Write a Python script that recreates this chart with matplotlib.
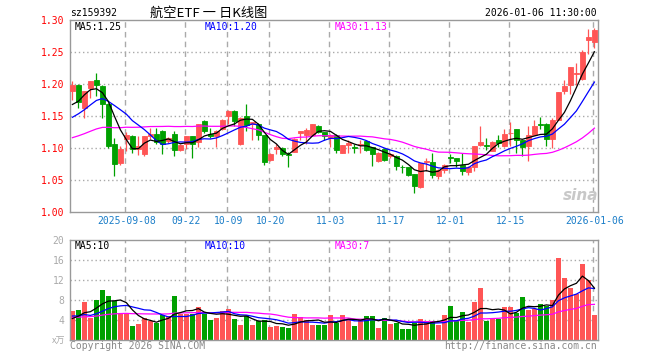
import numpy as np
import pandas as pd
import matplotlib
matplotlib.use('Agg')
import matplotlib.pyplot as plt

# trading days shown (Aug 26 2025 .. Jan 6 2026, CN holidays removed)
holidays = ['2025-10-01', '2025-10-02', '2025-10-03', '2025-10-06', '2025-10-07',
            '2025-10-08', '2026-01-01', '2026-01-02']
days = pd.bdate_range('2025-08-26', '2026-01-06')
days = days[~days.strftime('%Y-%m-%d').isin(holidays)]

open_ = [1.189, 1.199, 1.162, 1.193, 1.207, 1.197, 1.168, 1.106, 1.077, 1.114,
         1.119, 1.099, 1.091, 1.118, 1.122, 1.127, 1.111, 1.122, 1.097, 1.106,
         1.118, 1.109, 1.142, 1.122, 1.118, 1.129, 1.150, 1.158, 1.107, 1.150,
         1.137, 1.138, 1.120, 1.082, 1.098, 1.100, 1.091, 1.093, 1.123, 1.121,
         1.121, 1.134, 1.125, 1.116, 1.121, 1.092, 1.105, 1.101, 1.105, 1.111,
         1.102, 1.079, 1.099, 1.087, 1.088, 1.071, 1.070, 1.059, 1.039, 1.078,
         1.078, 1.057, 1.065, 1.086, 1.084, 1.074, 1.062, 1.071, 1.104, 1.104,
         1.096, 1.113, 1.103, 1.123, 1.129, 1.112, 1.103, 1.121, 1.137, 1.138,
         1.114, 1.144, 1.189, 1.199, 1.216, 1.208, 1.268, 1.266]
high = [1.205, 1.200, 1.189, 1.205, 1.217, 1.198, 1.170, 1.115, 1.103, 1.125,
        1.120, 1.118, 1.118, 1.132, 1.131, 1.128, 1.117, 1.127, 1.107, 1.119,
        1.119, 1.138, 1.143, 1.132, 1.128, 1.145, 1.159, 1.159, 1.148, 1.168,
        1.141, 1.139, 1.121, 1.092, 1.106, 1.101, 1.093, 1.115, 1.126, 1.132,
        1.137, 1.136, 1.125, 1.122, 1.122, 1.105, 1.113, 1.106, 1.113, 1.111,
        1.102, 1.093, 1.100, 1.092, 1.089, 1.074, 1.071, 1.060, 1.076, 1.084,
        1.092, 1.067, 1.075, 1.090, 1.085, 1.092, 1.072, 1.103, 1.134, 1.115,
        1.111, 1.121, 1.129, 1.140, 1.129, 1.113, 1.135, 1.144, 1.148, 1.139,
        1.147, 1.188, 1.207, 1.227, 1.233, 1.253, 1.286, 1.287]
low = [1.175, 1.163, 1.147, 1.178, 1.181, 1.147, 1.100, 1.056, 1.073, 1.096,
       1.092, 1.089, 1.088, 1.114, 1.106, 1.090, 1.108, 1.088, 1.096, 1.098,
       1.084, 1.101, 1.123, 1.116, 1.101, 1.128, 1.137, 1.134, 1.105, 1.126,
       1.112, 1.113, 1.074, 1.080, 1.090, 1.087, 1.070, 1.093, 1.113, 1.106,
       1.120, 1.124, 1.113, 1.102, 1.092, 1.092, 1.092, 1.092, 1.092, 1.095,
       1.072, 1.078, 1.079, 1.085, 1.065, 1.061, 1.057, 1.029, 1.038, 1.064,
       1.053, 1.051, 1.061, 1.077, 1.071, 1.058, 1.058, 1.064, 1.103, 1.097,
       1.095, 1.102, 1.101, 1.103, 1.092, 1.087, 1.079, 1.120, 1.129, 1.103,
       1.100, 1.143, 1.185, 1.185, 1.199, 1.206, 1.247, 1.256]
close = [1.199, 1.172, 1.189, 1.205, 1.198, 1.168, 1.103, 1.075, 1.098, 1.121,
         1.098, 1.103, 1.118, 1.122, 1.110, 1.106, 1.115, 1.097, 1.105, 1.118,
         1.106, 1.138, 1.127, 1.118, 1.127, 1.143, 1.158, 1.142, 1.147, 1.136,
         1.141, 1.120, 1.078, 1.091, 1.102, 1.090, 1.089, 1.114, 1.126, 1.128,
         1.137, 1.125, 1.119, 1.121, 1.097, 1.105, 1.108, 1.100, 1.107, 1.097,
         1.091, 1.092, 1.081, 1.090, 1.072, 1.070, 1.058, 1.040, 1.076, 1.079,
         1.058, 1.066, 1.074, 1.085, 1.079, 1.064, 1.071, 1.103, 1.110, 1.103,
         1.110, 1.108, 1.122, 1.124, 1.112, 1.102, 1.121, 1.135, 1.136, 1.114,
         1.144, 1.187, 1.197, 1.227, 1.217, 1.250, 1.273, 1.285]
# volume, 10k shares
volume = [5.8, 6.0, 7.6, 4.5, 8.0, 10.0, 8.8, 7.9, 5.3, 5.3,
          2.8, 3.2, 4.5, 3.8, 3.5, 5.0, 4.8, 8.8, 5.3, 5.3,
          5.3, 6.7, 5.3, 4.0, 4.5, 5.8, 6.2, 4.2, 3.0, 4.8,
          3.0, 3.9, 4.1, 2.7, 2.8, 2.7, 2.5, 5.2, 4.7, 4.1,
          3.0, 3.0, 3.0, 5.0, 3.5, 5.0, 4.3, 2.8, 4.3, 4.8,
          4.8, 2.5, 4.5, 3.3, 3.5, 2.2, 2.2, 3.5, 4.2, 3.9,
          3.9, 3.0, 5.0, 6.8, 3.8, 5.7, 3.7, 7.7, 10.5, 3.9,
          4.5, 4.3, 6.7, 6.7, 5.5, 8.7, 6.1, 6.3, 7.2, 6.8,
          8.0, 16.5, 12.5, 10.5, 9.2, 15.2, 12.0, 5.0]

# earlier sessions (off screen) that feed the moving averages
pre_close = [1.085, 1.088, 1.092, 1.090, 1.095, 1.098, 1.094, 1.097, 1.100, 1.103,
             1.099, 1.102, 1.105, 1.108, 1.104, 1.107, 1.110, 1.106, 1.109, 1.112,
             1.118, 1.125, 1.130, 1.128, 1.139, 1.147, 1.1385, 1.165, 1.1905]
pre_volume = [4.0, 5.2, 3.6, 4.8, 3.9, 4.5, 5.0, 3.4, 4.2, 4.6,
              3.8, 5.1, 4.4, 3.7, 4.9, 4.3, 4.0, 4.7, 3.9, 5.0,
              5.8, 4.9, 6.2, 4.7, 4.9, 3.6, 4.2, 3.5, 4.4]

tick_dates = ['2025-09-08', '2025-09-22', '2025-10-09', '2025-10-20', '2025-11-03',
              '2025-11-17', '2025-12-01', '2025-12-15', '2026-01-06']
tick_labels = ['2025-09-08', '09-22', '10-09', '10-20', '11-03',
               '11-17', '12-01', '12-15', '2026-01-06']
price_ticks = [1.00, 1.05, 1.10, 1.15, 1.20, 1.25, 1.30]
vol_ticks = [4, 8, 12, 16, 20]

RED = '#ff5555'
GREEN = '#00a000'
GRID = '#aaaaaa'
FRAME = '#999999'
MA_COLS = {5: 'black', 10: '#0000ff', 30: '#ff00ff'}
MONO = 'DejaVu Sans Mono'
CJK = ['Noto Sans CJK SC', 'DejaVu Sans']

open_, high, low, close, volume = map(np.array, (open_, high, low, close, volume))
n = len(close)
x = np.arange(n)
npre = len(pre_close)
c_all = pd.Series(list(pre_close) + list(close))
v_all = pd.Series(list(pre_volume) + list(volume))
ma = {k: c_all.rolling(k).mean().values[npre:] for k in (5, 10, 30)}
vma = {k: v_all.rolling(k).mean().values[npre:] for k in (5, 10, 30)}

day_str = list(days.strftime('%Y-%m-%d'))
tick_pos = [day_str.index(d) for d in tick_dates]

W, H = 660, 360
fig = plt.figure(figsize=(W / 100, H / 100), dpi=100)


def box(l, t, r, b):
    return [l / W, 1 - b / H, (r - l) / W, (b - t) / H]


def ftext(px, py, s, **kw):
    fig.text(px / W, 1 - py / H, s, **kw)


ax = fig.add_axes(box(70, 20, 598, 212))
axv = fig.add_axes(box(70, 240, 598, 340))

up = close >= open_
cols = np.where(up, RED, GREEN)

for a in (ax, axv):
    a.set_xlim(-0.4, 87.6)
    for p in tick_pos:
        a.axvline(p - 0.25, color=GRID, lw=1.0, ls=(0, (4, 3)), zorder=0)
    for s in a.spines.values():
        s.set_color(FRAME)
        s.set_linewidth(1.0)
    a.tick_params(length=0)

# price panel
ax.vlines(x, low, high, colors=cols, lw=0.9, zorder=2)
ax.bar(x, np.abs(close - open_), bottom=np.minimum(open_, close), width=0.8,
       color=cols, edgecolor=cols, linewidth=0.6, zorder=3)
for k in (30, 10, 5):
    ax.plot(x, ma[k], color=MA_COLS[k], lw=0.9, zorder=4)
ax.set_ylim(1.00, 1.30)
ax.set_yticks(price_ticks)
ax.set_yticklabels(['%.2f' % v for v in price_ticks], color='red',
                   family=MONO, fontsize=7)
for v in price_ticks[1:-1]:
    ax.axhline(v, color=GRID, lw=1.0, ls=(0, (1, 2)), zorder=0)
ax.set_xticks(tick_pos)
ax.set_xticklabels(tick_labels, color='#1a7dc8', family=MONO, fontsize=7)
ax.tick_params(axis='x', pad=3)
ax.tick_params(axis='y', pad=4)

# volume panel
axv.bar(x, volume, width=0.8, color=cols, linewidth=0, zorder=2)
for k in (30, 10, 5):
    axv.plot(x, vma[k], color=MA_COLS[k], lw=0.9, zorder=4)
axv.set_ylim(0, 20)
axv.set_yticks(vol_ticks)
axv.set_yticklabels([str(v) for v in vol_ticks], color=GRID, family=MONO, fontsize=7)
for v in vol_ticks[:-1]:
    axv.axhline(v, color=GRID, lw=1.0, ls=(0, (1, 2)), zorder=0)
axv.set_xticks([])
axv.tick_params(axis='y', pad=4)

# header texts
ftext(70, 13, 'sz159392', family=MONO, fontsize=7, va='center')
ftext(209, 13, '航空ETF 一 日K线图', family=CJK, fontsize=9.5, va='center', ha='center')
ftext(597, 13, '2026-01-06 11:30:00', family=MONO, fontsize=7, va='center', ha='right')

ftext(75, 27, 'MA5:%.2f' % ma[5][-1], family=MONO, fontsize=7, va='center', color='black')
ftext(205, 27, 'MA10:%.2f' % ma[10][-1], family=MONO, fontsize=7, va='center', color='#0000ff')
ftext(335, 27, 'MA30:%.2f' % ma[30][-1], family=MONO, fontsize=7, va='center', color='#ff00ff')

ftext(75, 246, 'MA5:%d' % vma[5][-1], family=MONO, fontsize=7, va='center', color='black')
ftext(205, 246, 'MA10:%d' % vma[10][-1], family=MONO, fontsize=7, va='center', color='#0000ff')
ftext(335, 246, 'MA30:%d' % vma[30][-1], family=MONO, fontsize=7, va='center', color='#ff00ff')

ftext(65, 341, 'x万', family=CJK, fontsize=6.5, va='center', ha='right',
      color=GRID, style='italic')
ftext(70, 346, 'Copyright 2026 SINA.COM', family=MONO, fontsize=7, va='center', color='#888888')
ftext(597, 346, 'http://finance.sina.com.cn', family=MONO, fontsize=7, va='center',
      ha='right', color='#888888')

# watermark
ftext(581, 196, 'sina', fontsize=11, fontweight='bold', style='italic',
      color='#c8c8c8', ha='center', va='center')

fig.savefig('out.png', dpi=100)
